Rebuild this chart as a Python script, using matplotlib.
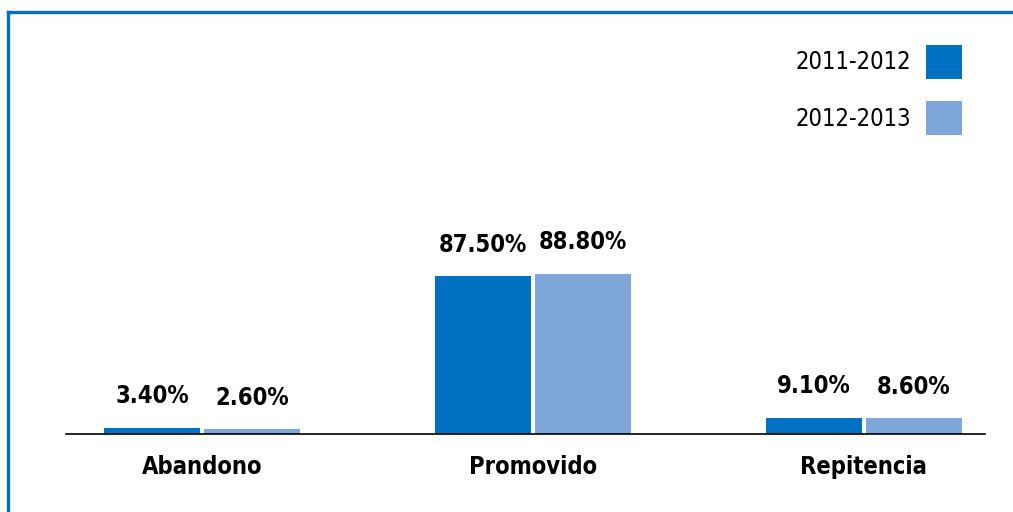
import matplotlib
matplotlib.use("Agg")
import numpy as np
from matplotlib import pyplot as plt
from matplotlib.lines import Line2D
from matplotlib import font_manager

categories = ["Abandono", "Promovido", "Repitencia"]
series_names = ["2011-2012", "2012-2013"]
values_2011 = [3.40, 87.50, 9.10]
values_2012 = [2.60, 88.80, 8.60]

dark = "#0070C0"
light = "#7FA6D9"

# look for a condensed face, otherwise fall back to an Arial-like one
pref = {"condensed": 0, "extra-condensed": 1, "semi-condensed": 2}
narrow = None
for f in font_manager.fontManager.ttflist:
    st = str(f.stretch).lower()
    rank = pref.get(st)
    if rank is None and ("narrow" in f.name.lower() or "condensed" in f.name.lower()):
        rank = 3
    if rank is not None and (narrow is None or rank < narrow[0]):
        narrow = (rank, f)

if narrow is not None:
    family = narrow[1].name
    stretch = narrow[1].stretch
    size = 17
else:
    family = "Liberation Sans"
    stretch = "normal"
    size = 16
plt.rcParams["font.family"] = [family, "DejaVu Sans"]
plt.rcParams["font.stretch"] = stretch

fig = plt.figure(figsize=(10.13, 5.12), dpi=100)
ax = fig.add_axes([66 / 1013, 78 / 512, 919 / 1013, 404 / 512])

x = np.arange(len(categories))
w = 0.29
off = 0.151
b1 = ax.bar(x - off, values_2011, w, color=dark, label=series_names[0])
b2 = ax.bar(x + off, values_2012, w, color=light, label=series_names[1])

for bars, vals in ((b1, values_2011), (b2, values_2012)):
    for r, v in zip(bars, vals):
        ax.annotate(f"{v:.2f}%", (r.get_x() + r.get_width() / 2, r.get_height()),
                    xytext=(0, 14), textcoords="offset points", ha="center", va="bottom",
                    fontsize=size, fontweight="bold")

ax.set_xlim(-0.411, 2.366)
ax.set_ylim(0, 223.7)
ax.set_xticks(x)
ax.set_xticklabels(categories, fontsize=size, fontweight="bold")
ax.tick_params(axis="x", length=0, pad=15)
ax.set_yticks([])
for s in ("top", "right", "left"):
    ax.spines[s].set_visible(False)
ax.spines["bottom"].set_linewidth(1.2)

leg = ax.legend(loc="upper right", bbox_to_anchor=(911 / 919, 1.0), frameon=False,
                markerfirst=False, fontsize=size, handlelength=1.52, handleheight=1.82,
                labelspacing=0.97, handletextpad=0.65, borderaxespad=0.23)

# frame lines on the top and left
fig.add_artist(Line2D([8 / 1013, 1.0], [1 - 11.5 / 512, 1 - 11.5 / 512], color=dark, lw=2.4))
fig.add_artist(Line2D([8 / 1013, 8 / 1013], [0, 1 - 11.5 / 512], color=dark, lw=2.4))

fig.savefig("out.png", dpi=100)
